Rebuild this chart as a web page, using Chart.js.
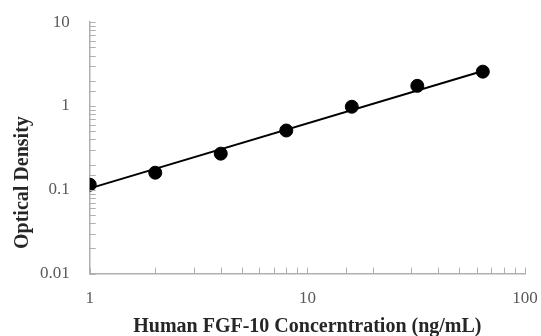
<!DOCTYPE html>
<html><head><meta charset="utf-8">
<script src="https://cdn.jsdelivr.net/npm/chart.js@4"></script>
<style>html,body{margin:0;padding:0;background:#fff}#c{display:block}</style>
</head><body>
<canvas id="c" width="541" height="336"></canvas>
<script>
const concentrations = [1, 2, 4, 8, 16, 32, 64];
const opticalDensity = [0.115, 0.16, 0.27, 0.51, 0.98, 1.74, 2.57];
const trendX = [1, 64];
const trendY = [0.104, 2.62];
const xTickLabels = [1, 10, 100];
const yTickLabels = [0.01, 0.1, 1, 10];
const yTitle = 'Optical Density';
const xTitle = 'Human FGF-10 Concerntration (ng/mL)';

const serif = '"Liberation Serif", "Times New Roman", serif';
const tickFont = { family: serif, size: 17 };

const extras = {
  id: 'extras',
  afterDraw(chart) {
    const ctx = chart.ctx, area = chart.chartArea;
    ctx.save();
    ctx.strokeStyle = '#b0b0b0';
    ctx.lineWidth = 1;
    const xs = chart.scales.x, ys = chart.scales.y;
    xs.ticks.forEach(t => {
      const px = Math.round(xs.getPixelForValue(t.value)) + 0.5;
      ctx.beginPath(); ctx.moveTo(px, area.bottom); ctx.lineTo(px, area.bottom - 6); ctx.stroke();
    });
    ys.ticks.forEach(t => {
      const py = Math.round(ys.getPixelForValue(t.value)) + 0.5;
      ctx.beginPath(); ctx.moveTo(area.left, py); ctx.lineTo(area.left + 6, py); ctx.stroke();
    });
    ctx.fillStyle = '#262626';
    ctx.font = 'bold 20px ' + serif;
    ctx.textAlign = 'center';
    ctx.textBaseline = 'middle';
    // x axis title
    ctx.fillText(xTitle, (area.left + area.right) / 2, area.bottom + 53);
    // y axis title (sits below the plot centre, as in the reference)
    ctx.translate(23, area.top + (area.bottom - area.top) * 0.638);
    ctx.rotate(-Math.PI / 2);
    ctx.fillText(yTitle, 0, 0);
    ctx.restore();
  }
};

new Chart(document.getElementById('c'), {
  type: 'scatter',
  data: {
    datasets: [
      {
        data: concentrations.map((x, i) => ({ x, y: opticalDensity[i] })),
        backgroundColor: '#000', borderColor: '#000',
        pointRadius: 6.5, pointHoverRadius: 6.5, showLine: false, order: 0
      },
      {
        data: trendX.map((x, i) => ({ x, y: trendY[i] })),
        borderColor: '#000', borderWidth: 2, pointRadius: 0,
        showLine: true, fill: false, order: 1
      }
    ]
  },
  options: {
    responsive: false, animation: false,
    layout: { padding: { top: 20, right: 0, left: 28, bottom: 20 } },
    plugins: { legend: { display: false }, tooltip: { enabled: false } },
    scales: {
      x: {
        type: 'logarithmic', min: 1, max: 100,
        afterFit(scale) { scale.paddingRight = 16; },
        grid: { display: false },
        border: { display: true, color: '#b0b0b0', width: 1.5 },
        ticks: {
          autoSkip: false, maxRotation: 0, color: '#595959', font: tickFont, padding: 7,
          callback: v => xTickLabels.includes(v) ? String(v) : ''
        }
      },
      y: {
        type: 'logarithmic', min: 0.01, max: 10,
        grid: { display: false },
        border: { display: true, color: '#b0b0b0', width: 1.5 },
        ticks: {
          autoSkip: false, color: '#595959', font: tickFont, padding: 12,
          callback: v => yTickLabels.includes(v) ? String(v) : ''
        }
      }
    }
  },
  plugins: [extras]
});
</script>
</body></html>
